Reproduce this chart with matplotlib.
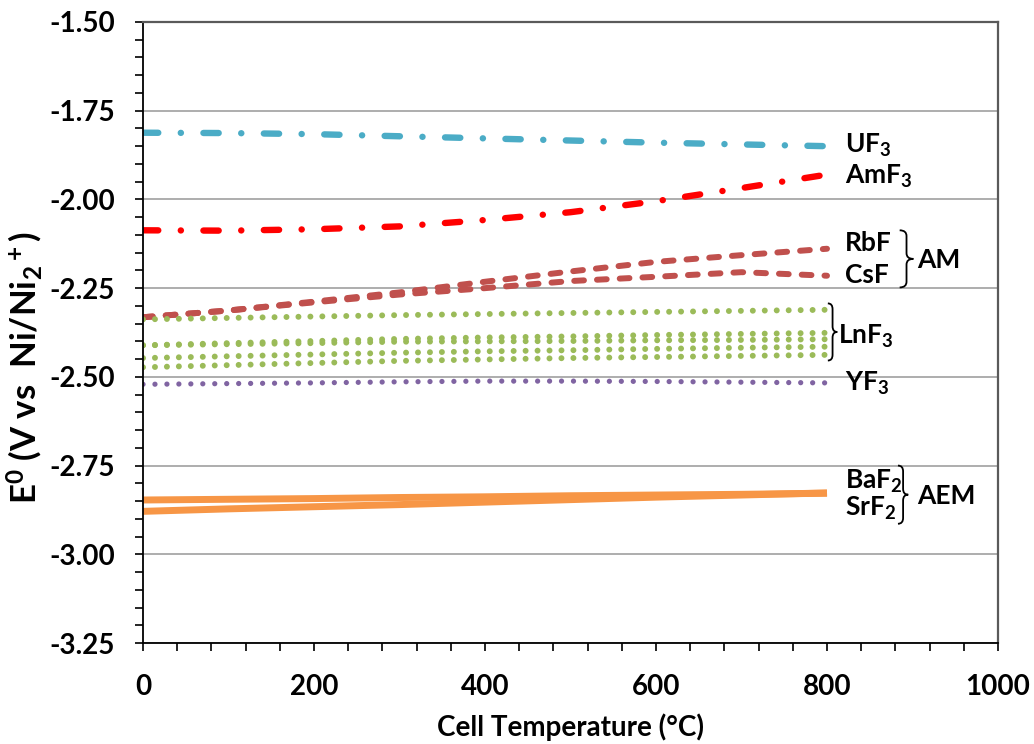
import matplotlib
matplotlib.use('Agg')
import matplotlib.pyplot as plt
from matplotlib.path import Path
from matplotlib.patches import PathPatch
from matplotlib.ticker import MultipleLocator, FormatStrFormatter

# cell temperature (C)
temps = [0, 100, 200, 300, 400, 500, 600, 700, 800]

# standard potentials E0 (V vs Ni/Ni2+)
uf3 = [-1.812, -1.813, -1.816, -1.822, -1.828, -1.834, -1.840, -1.845, -1.850]
amf3 = [-2.087, -2.088, -2.084, -2.076, -2.058, -2.036, -2.005, -1.968, -1.930]
rbf = [-2.332, -2.313, -2.288, -2.262, -2.232, -2.203, -2.176, -2.157, -2.139]
csf = [-2.332, -2.313, -2.290, -2.268, -2.250, -2.230, -2.218, -2.205, -2.215]
lnf3_a = [-2.338, -2.334, -2.330, -2.326, -2.323, -2.320, -2.317, -2.314, -2.311]
lnf3_b = [-2.411, -2.405, -2.399, -2.393, -2.389, -2.386, -2.382, -2.379, -2.376]
lnf3_c = [-2.411, -2.408, -2.405, -2.401, -2.400, -2.399, -2.397, -2.396, -2.394]
lnf3_d = [-2.447, -2.442, -2.437, -2.432, -2.428, -2.425, -2.421, -2.418, -2.415]
lnf3_e = [-2.473, -2.467, -2.461, -2.455, -2.451, -2.447, -2.444, -2.441, -2.438]
yf3 = [-2.521, -2.519, -2.517, -2.514, -2.512, -2.512, -2.513, -2.515, -2.517]
baf2 = [-2.847, -2.845, -2.843, -2.840, -2.838, -2.835, -2.833, -2.831, -2.828]
srf2 = [-2.879, -2.872, -2.866, -2.860, -2.853, -2.846, -2.839, -2.833, -2.827]

plt.rcParams['font.family'] = ['Lato', 'DejaVu Sans']
plt.rcParams['font.weight'] = 'bold'
plt.rcParams['axes.labelweight'] = 'bold'
plt.rcParams['mathtext.fontset'] = 'custom'
plt.rcParams['mathtext.rm'] = 'Lato:bold'
plt.rcParams['mathtext.it'] = 'Lato:bold'
plt.rcParams['mathtext.bf'] = 'Lato:bold'
plt.rcParams['lines.scale_dashes'] = False

fig = plt.figure(figsize=(10.34, 7.44), dpi=100)
ax = fig.add_axes([143 / 1034, 101 / 744, 855 / 1034, 621 / 744])

dashdot = (0, (11, 16.2, 0.1, 16.2))
ax.plot(temps, uf3, color='#4BACC6', lw=4.6, ls=dashdot, dash_capstyle='round')
ax.plot(temps, amf3, color='#FF0000', lw=4.6, ls=dashdot, dash_capstyle='round')
for s in [rbf, csf]:
    ax.plot(temps, s, color='#C0504D', lw=4.3, ls=(0, (7.0, 9.4)), dash_capstyle='round')
for s in [lnf3_a, lnf3_b, lnf3_c, lnf3_d, lnf3_e]:
    ax.plot(temps, s, color='#9BBB59', lw=4.3, ls=(0, (0.01, 8.6)), dash_capstyle='round')
ax.plot(temps, yf3, color='#8064A2', lw=3.8, ls=(0, (0.01, 8.6)), dash_capstyle='round')
ax.plot(temps, baf2, color='#F79646', lw=5.0, solid_capstyle='butt')
ax.plot(temps, srf2, color='#F79646', lw=5.0, solid_capstyle='butt')

ax.set_xlim(0, 1000)
ax.set_ylim(-3.25, -1.50)
ax.xaxis.set_major_locator(MultipleLocator(200))
ax.xaxis.set_minor_locator(MultipleLocator(40))
ax.yaxis.set_major_locator(MultipleLocator(0.25))
ax.yaxis.set_minor_locator(MultipleLocator(0.05))
ax.yaxis.set_major_formatter(FormatStrFormatter('%.2f'))
ax.tick_params(which='both', direction='out', length=6, width=1.2, colors='black')
ax.tick_params(axis='y', which='major', pad=14, labelsize=20)
ax.tick_params(axis='x', which='major', pad=16, labelsize=20)
ax.grid(axis='y', which='major', color='#A0A0A0', lw=1.2)
ax.set_axisbelow(True)
for side in ['left', 'bottom']:
    ax.spines[side].set_color('black')
    ax.spines[side].set_linewidth(1.3)
for side in ['top', 'right']:
    ax.spines[side].set_color('#5A5A5A')
    ax.spines[side].set_linewidth(1.6)

ax.set_xlabel('Cell Temperature (°C)', fontsize=20, fontweight='bold', labelpad=10)
ax.set_ylabel('E$^0$ (V vs  Ni/Ni$_2$$^+$)', fontsize=25, fontweight='bold')
ax.yaxis.set_label_coords(-0.115, 0.443)


def brace(x0, w, y_top, y_bot):
    h = y_top - y_bot
    pts = [(0, 1), (0.5, 1), (0.5, 0.9), (0.5, 0.6), (0.5, 0.5), (1, 0.5),
           (0.5, 0.5), (0.5, 0.4), (0.5, 0.1), (0.5, 0), (0, 0)]
    codes = [Path.MOVETO, Path.CURVE3, Path.CURVE3, Path.LINETO, Path.CURVE3, Path.CURVE3,
             Path.CURVE3, Path.CURVE3, Path.LINETO, Path.CURVE3, Path.CURVE3]
    verts = [(x0 + u * w, y_bot + v * h) for u, v in pts]
    ax.add_patch(PathPatch(Path(verts, codes), fill=False, color='black', lw=1.3, clip_on=False))


fs = 19
kw = dict(fontsize=fs, fontweight='bold', va='center')
ax.text(821, -1.847, 'UF$_3$', **kw)
ax.text(821, -1.935, 'AmF$_3$', **kw)
ax.text(821, -2.124, 'RbF', **kw)
ax.text(821, -2.214, 'CsF', **kw)
brace(885, 16, -2.087, -2.248)
ax.text(906, -2.172, 'AM', **kw)
brace(801, 11, -2.293, -2.454)
ax.text(813, -2.385, 'LnF$_3$', **kw)
ax.text(821, -2.519, 'YF$_3$', **kw)
ax.text(821, -2.795, 'BaF$_2$', **kw)
ax.text(821, -2.871, 'SrF$_2$', **kw)
brace(883, 12, -2.750, -2.914)
ax.text(906, -2.835, 'AEM', **kw)

fig.savefig('out.png', dpi=100)
